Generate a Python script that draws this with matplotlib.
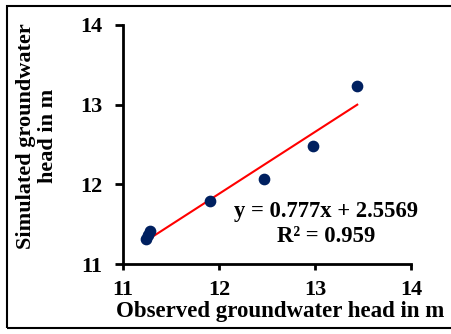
import matplotlib
matplotlib.use("Agg")
import matplotlib.pyplot as plt
from matplotlib.patches import Rectangle
import numpy as np

observed = [11.24, 11.26, 11.28, 11.91, 12.47, 12.98, 13.44]
simulated = [11.31, 11.36, 11.41, 11.79, 12.07, 12.48, 13.24]
slope = 0.777
intercept = 2.5569
r2 = 0.959
xticks = [11, 12, 13, 14]
yticks = [11, 12, 13, 14]

plt.rcParams['font.family'] = ['Liberation Serif', 'DejaVu Serif']
plt.rcParams['font.weight'] = 'bold'

fig = plt.figure(figsize=(4.51, 3.34), dpi=100)
ax = fig.add_axes([123/451, 1-264/334, (411-123)/451, (264-25)/334])

ax.scatter(observed, simulated, s=55, color='#002060', zorder=3)
xs = np.array([min(observed), max(observed)])
ax.plot(xs, slope*xs + intercept, color='#ff0000', lw=1.5, zorder=2)

ax.set_xlim(11, 14)
ax.set_ylim(11, 14)
ax.set_xticks(xticks)
ax.set_yticks(yticks)
ax.set_xticklabels([str(t) for t in xticks], fontsize=16, fontweight='bold')
ax.set_yticklabels([str(t) for t in yticks], fontsize=16, fontweight='bold')
for s in ['top', 'right']:
    ax.spines[s].set_visible(False)
for s in ['left', 'bottom']:
    ax.spines[s].set_linewidth(2)
ax.tick_params(axis='x', direction='out', length=4.3, width=2, pad=7)
ax.tick_params(axis='y', direction='out', length=5.8, width=2, pad=9)

ax.text(0.705, 0.167, f"y = {slope}x + {intercept}\nR\u00b2 = {r2}", transform=ax.transAxes,
        ha='center', va='center', fontsize=16.3, fontweight='bold', linespacing=1.2)

fig.text(280/451, 1-312/334, "Observed groundwater head in m", ha='center', va='center',
         fontsize=16.5, fontweight='bold')
fig.text(37/451, 1-136/334, "Simulated groundwater\nhead in m", ha='center', va='center',
         rotation=90, fontsize=16, fontweight='bold', linespacing=1.15)

fig.patches.append(Rectangle((7/451, 6/334), 446/451, 322/334, transform=fig.transFigure,
                             fill=False, edgecolor='black', lw=1.5))

fig.savefig("out.png", dpi=100)
